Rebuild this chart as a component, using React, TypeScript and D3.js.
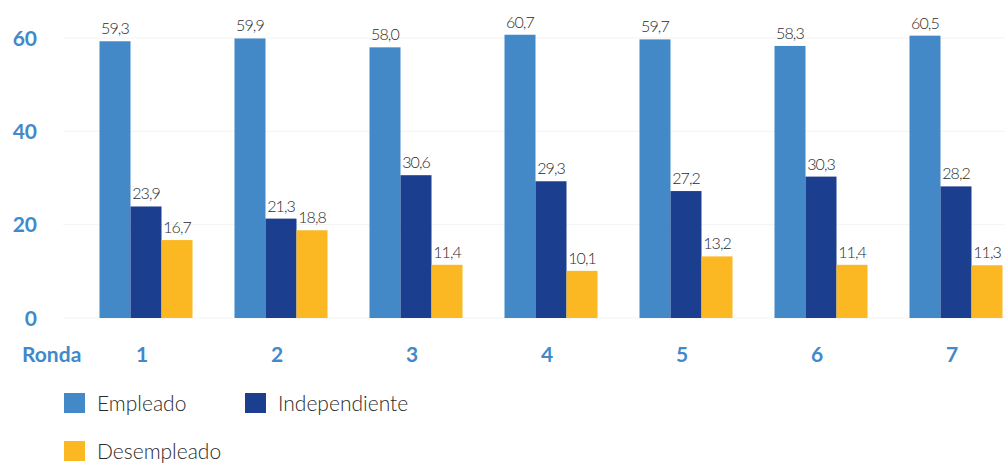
import * as d3 from 'd3'

// Rounds and series values
const rondas = ['1', '2', '3', '4', '5', '6', '7']
const empleado = [59.3, 59.9, 58.0, 60.7, 59.7, 58.3, 60.5]
const independiente = [23.9, 21.3, 30.6, 29.3, 27.2, 30.3, 28.2]
const desempleado = [16.7, 18.8, 11.4, 10.1, 13.2, 11.4, 11.3]
const yTicks = [0, 20, 40, 60]

const seriesNames = ['Empleado', 'Independiente', 'Desempleado']
const seriesColors = ['#4389c8', '#1c3e8f', '#fbb823']
const axisColor = '#4289c9'

const W = 1005
const H = 464

const locale = d3.formatLocale({ decimal: ',', thousands: '.', grouping: [3], currency: ['', ''] })
const fmt = locale.format('.1f')

export default function App() {
  const series = [empleado, independiente, desempleado]

  const step = 135
  const x0 = d3.scaleBand<string>()
    .domain(rondas)
    .range([146 - step / 2, 146 + step * 6.5])
    .paddingInner(0.311)
    .paddingOuter(0.1555)
  const x1 = d3.scaleBand<string>()
    .domain(seriesNames)
    .range([0, x0.bandwidth()])

  const y = d3.scaleLinear([0, 60], [318, 38])

  return (
    <div style={{ position: 'fixed', left: 0, top: 0, width: W, height: H, background: '#fff' }}>
      <svg width={W} height={H} style={{ display: 'block', fontFamily: 'Lato, "Open Sans", sans-serif' }}>
        {/* faint gridlines */}
        {yTicks.map(t => (
          <line key={t} x1={63} x2={W} y1={y(t)} y2={y(t)} stroke="#f3f3f3" strokeWidth={1} />
        ))}
        {yTicks.map(t => (
          <text key={'t' + t} x={37} y={y(t)} dy="0.36em" textAnchor="end"
            fontSize={21} fontWeight={700} fill={axisColor}>{t}</text>
        ))}

        {series.map((vals, si) => (
          <g key={si}>
            {vals.map((v, i) => {
              const bx = (x0(rondas[i]) ?? 0) + (x1(seriesNames[si]) ?? 0)
              return (
                <g key={i}>
                  <rect x={bx} y={y(v)} width={x1.bandwidth()} height={y(0) - y(v)} fill={seriesColors[si]} />
                  <text x={bx + x1.bandwidth() / 2} y={y(v) - 7} textAnchor="middle"
                    fontSize={16} fontWeight={300} letterSpacing={-0.9} fill="#2b2b2b">{fmt(v)}</text>
                </g>
              )
            })}
          </g>
        ))}

        {/* category axis */}
        <text x={22} y={362} fontSize={21} fontWeight={700} fill={axisColor}>Ronda</text>
        {rondas.map(r => (
          <text key={r} x={(x0(r) ?? 0) + x0.bandwidth() / 2 - 4} y={362} textAnchor="middle"
            fontSize={21} fontWeight={700} fill={axisColor}>{r}</text>
        ))}

        {/* legend */}
        {seriesNames.map((name, i) => {
          const lx = i === 1 ? 245 : 64
          const ly = i === 2 ? 441 : 393
          return (
            <g key={name}>
              <rect x={lx} y={ly} width={21} height={20} fill={seriesColors[i]} />
              <text x={lx + 33} y={ly + 10} dy="0.36em" fontSize={21} fontWeight={300} fill="#2b2b2b">{name}</text>
            </g>
          )
        })}
      </svg>
    </div>
  )
}
